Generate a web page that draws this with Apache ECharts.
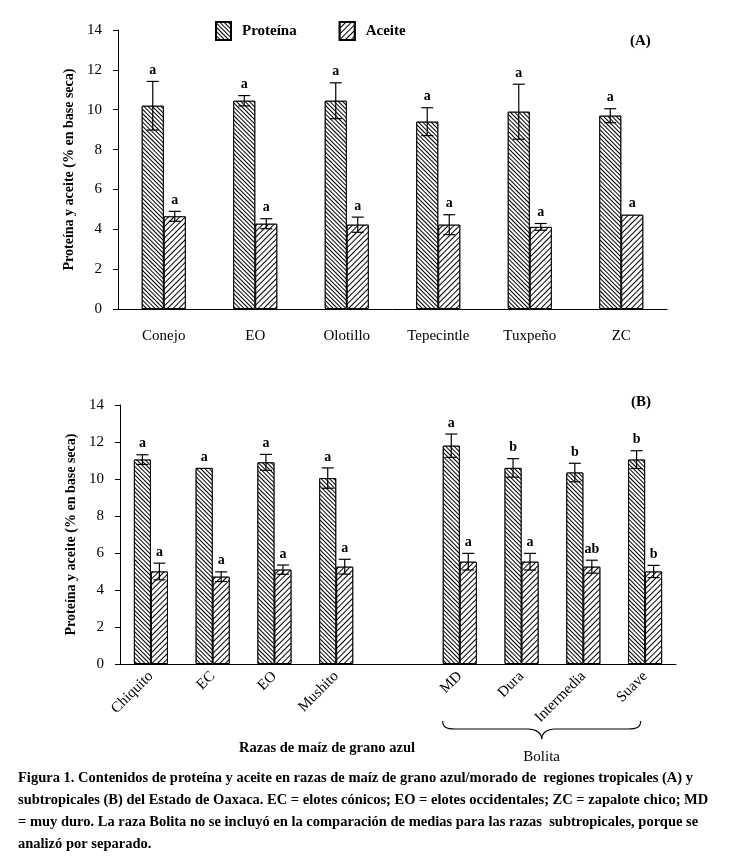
<!DOCTYPE html>
<html><head><meta charset="utf-8">
<script src="https://cdn.jsdelivr.net/npm/echarts@6/dist/echarts.min.js"></script>
<style>html,body{margin:0;padding:0;background:#fff}#c{width:732px;height:868px}</style>
</head><body><div id="c"></div>
<script>
// ---------- data ----------
const seriesNames = ['Proteína', 'Aceite'];
const yTicks = [0, 2, 4, 6, 8, 10, 12, 14];

const catsA = ['Conejo', 'EO', 'Olotillo', 'Tepecintle', 'Tuxpeño', 'ZC'];
const protA = [10.2, 10.45, 10.45, 9.4, 9.9, 9.7];
const protErrA = [1.22, 0.26, 0.9, 0.7, 1.38, 0.35];
const aceA = [4.65, 4.28, 4.23, 4.23, 4.12, 4.73];
const aceErrA = [0.25, 0.25, 0.38, 0.5, 0.17, 0];
const protLetA = ['a', 'a', 'a', 'a', 'a', 'a'];
const aceLetA = ['a', 'a', 'a', 'a', 'a', 'a'];

const catsB = ['Chiquito', 'EC', 'EO', 'Mushito', '', 'MD', 'Dura', 'Intermedia', 'Suave'];
const protB = [11.05, 10.6, 10.9, 10.05, null, 11.8, 10.6, 10.35, 11.05];
const protErrB = [0.26, 0, 0.43, 0.55, null, 0.63, 0.5, 0.5, 0.48];
const aceB = [5.0, 4.72, 5.1, 5.26, null, 5.53, 5.53, 5.26, 5.0];
const aceErrB = [0.45, 0.26, 0.25, 0.4, null, 0.45, 0.45, 0.35, 0.33];
const protLetB = ['a', 'a', 'a', 'a', '', 'a', 'b', 'b', 'b'];
const aceLetB = ['a', 'a', 'a', 'a', '', 'a', 'a', 'ab', 'b'];

const xTitleB = 'Razas de maíz de grano azul';
const groupLabel = 'Bolita';
const caption = [
  'Figura 1. Contenidos de proteína y aceite en razas de maíz de grano azul/morado de  regiones tropicales (A) y',
  'subtropicales (B) del Estado de Oaxaca. EC = elotes cónicos; EO = elotes occidentales; ZC = zapalote chico; MD',
  '= muy duro. La raza Bolita no se incluyó en la comparación de medias para las razas  subtropicales, porque se',
  'analizó por separado.'
];

// ---------- styles ----------
const FONT = '"Liberation Serif", "Times New Roman", serif';
const decalProt = { symbol: 'rect', symbolSize: 1, color: '#000', backgroundColor: '#fff',
  dashArrayX: [1, 0], dashArrayY: [1, 2], rotation: Math.PI / 4 };
const decalAce = { symbol: 'rect', symbolSize: 1, color: '#000', backgroundColor: '#fff',
  dashArrayX: [1, 0], dashArrayY: [1, 3], rotation: -Math.PI / 4 };

function yAxis(gi) {
  return {
    type: 'value', gridIndex: gi, min: 0, max: 14, interval: 2,
    axisLine: { show: true, lineStyle: { color: '#000', width: 1 } },
    axisTick: { show: true, length: 5, lineStyle: { color: '#000' } },
    splitLine: { show: false },
    axisLabel: { color: '#000', fontFamily: FONT, fontSize: 15, margin: 16,
      formatter: v => yTicks.includes(v) ? String(v) : '' },
    name: 'Proteína y aceite (% en base seca)', nameLocation: 'middle', nameGap: 42,
    nameTextStyle: { fontFamily: FONT, fontWeight: 'bold', fontSize: 14, color: '#000' }
  };
}

function errRender(vals, errs, lets, barW, side) {
  return function (params, api) {
    const i = api.value(0);
    const v = vals[i], e = errs[i];
    if (v == null) return;
    const c = api.coord([i, v]);
    const x = c[0] + side * barW / 2;
    const top = api.coord([i, v + (e || 0)])[1];
    const bot = api.coord([i, v - (e || 0)])[1];
    const children = [];
    const ls = { stroke: '#000', lineWidth: 1.2 };
    if (e > 0) {
      children.push({ type: 'line', shape: { x1: x, y1: top, x2: x, y2: bot }, style: ls });
      children.push({ type: 'line', shape: { x1: x - 6, y1: top, x2: x + 6, y2: top }, style: ls });
      children.push({ type: 'line', shape: { x1: x - 6, y1: bot, x2: x + 6, y2: bot }, style: ls });
    }
    children.push({ type: 'text', style: { text: lets[i], x: x, y: top - 4, align: 'center',
      verticalAlign: 'bottom', font: 'bold 14px ' + FONT, fill: '#000' } });
    return { type: 'group', children: children };
  };
}

function idx(arr) { return arr.map((v, i) => v == null ? null : [i, v]).filter(d => d); }

const BW_A = 22, BW_B = 17;

const braceStyle = { fill: 'none', stroke: '#000', lineWidth: 1.2 };
const braceParts = [
  { type: 'bezierCurve', shape: { x1: 442.7, y1: 721, cpx1: 442.7, cpy1: 727, cpx2: 446, cpy2: 729, x2: 455, y2: 729 }, style: braceStyle },
  { type: 'line', shape: { x1: 455, y1: 729, x2: 528, y2: 729 }, style: braceStyle },
  { type: 'bezierCurve', shape: { x1: 528, y1: 729, cpx1: 536, cpy1: 729, cpx2: 541.7, cpy2: 733, x2: 541.7, y2: 739 }, style: braceStyle },
  { type: 'bezierCurve', shape: { x1: 541.7, y1: 739, cpx1: 541.7, cpy1: 733, cpx2: 547, cpy2: 729, x2: 555, y2: 729 }, style: braceStyle },
  { type: 'line', shape: { x1: 555, y1: 729, x2: 628, y2: 729 }, style: braceStyle },
  { type: 'bezierCurve', shape: { x1: 628, y1: 729, cpx1: 637, cpy1: 729, cpx2: 640.7, cpy2: 727, x2: 640.7, y2: 721 }, style: braceStyle }
];

const option = {
  animation: false,
  backgroundColor: '#fff',
  legend: {
    data: seriesNames, left: 215, top: 21, padding: 0, itemWidth: 15, itemHeight: 18, itemGap: 42,
    icon: 'rect', selectedMode: false,
    textStyle: { fontFamily: FONT, fontWeight: 'bold', fontSize: 15, color: '#000', padding: [0, 0, 0, 6] }
  },
  grid: [
    { left: 118, right: 65, top: 30, bottom: 559, containLabel: false },
    { left: 120, right: 56, top: 405, bottom: 204, containLabel: false }
  ],
  xAxis: [
    { type: 'category', gridIndex: 0, data: catsA,
      axisLine: { lineStyle: { color: '#000' } }, axisTick: { show: false },
      axisLabel: { color: '#000', fontFamily: FONT, fontSize: 15, margin: 20, interval: 0 } },
    { type: 'category', gridIndex: 1, data: catsB,
      axisLine: { lineStyle: { color: '#000' } }, axisTick: { show: false },
      axisLabel: { color: '#000', fontFamily: FONT, fontSize: 15, margin: 10, interval: 0, rotate: 45 } }
  ],
  yAxis: [yAxis(0), yAxis(1)],
  series: [
    { name: seriesNames[0], type: 'bar', xAxisIndex: 0, yAxisIndex: 0, data: protA, barWidth: BW_A, barGap: '0%',
      itemStyle: { color: '#fff', borderColor: '#000', borderWidth: 1, decal: decalProt } },
    { name: seriesNames[1], type: 'bar', xAxisIndex: 0, yAxisIndex: 0, data: aceA, barWidth: BW_A, barGap: '0%',
      itemStyle: { color: '#fff', borderColor: '#000', borderWidth: 1, decal: decalAce } },
    { name: seriesNames[0], type: 'bar', xAxisIndex: 1, yAxisIndex: 1, data: protB.map(v => v == null ? '-' : v), barWidth: BW_B, barGap: '0%',
      itemStyle: { color: '#fff', borderColor: '#000', borderWidth: 1, decal: decalProt } },
    { name: seriesNames[1], type: 'bar', xAxisIndex: 1, yAxisIndex: 1, data: aceB.map(v => v == null ? '-' : v), barWidth: BW_B, barGap: '0%',
      itemStyle: { color: '#fff', borderColor: '#000', borderWidth: 1, decal: decalAce } },
    { type: 'custom', xAxisIndex: 0, yAxisIndex: 0, data: idx(protA), z: 5, clip: false,
      renderItem: errRender(protA, protErrA, protLetA, BW_A, -1) },
    { type: 'custom', xAxisIndex: 0, yAxisIndex: 0, data: idx(aceA), z: 5, clip: false,
      renderItem: errRender(aceA, aceErrA, aceLetA, BW_A, 1) },
    { type: 'custom', xAxisIndex: 1, yAxisIndex: 1, data: idx(protB), z: 5, clip: false,
      renderItem: errRender(protB, protErrB, protLetB, BW_B, -1) },
    { type: 'custom', xAxisIndex: 1, yAxisIndex: 1, data: idx(aceB), z: 5, clip: false,
      renderItem: errRender(aceB, aceErrB, aceLetB, BW_B, 1) }
  ],
  graphic: [
    { type: 'text', left: 630, top: 34, style: { text: '(A)', font: 'bold 15px ' + FONT, fill: '#000' } },
    { type: 'text', left: 631, top: 395, style: { text: '(B)', font: 'bold 15px ' + FONT, fill: '#000' } },
    { type: 'text', x: 327, y: 748, style: { text: xTitleB, font: 'bold 14.5px ' + FONT, fill: '#000', align: 'center', verticalAlign: 'middle' } },
    { type: 'text', x: 541.7, y: 757, style: { text: groupLabel, font: '15px ' + FONT, fill: '#000', align: 'center', verticalAlign: 'middle' } }
  ].concat(braceParts).concat(caption.map((t, k) => ({ type: 'text', x: 18, y: 778 + k * 22,
    style: { text: t, font: 'bold 14.5px ' + FONT, fill: '#000', align: 'left', verticalAlign: 'middle' } })))
};

const chart = echarts.init(document.getElementById('c'), null, { renderer: 'canvas' });
chart.setOption(option);
</script>
</body></html>
